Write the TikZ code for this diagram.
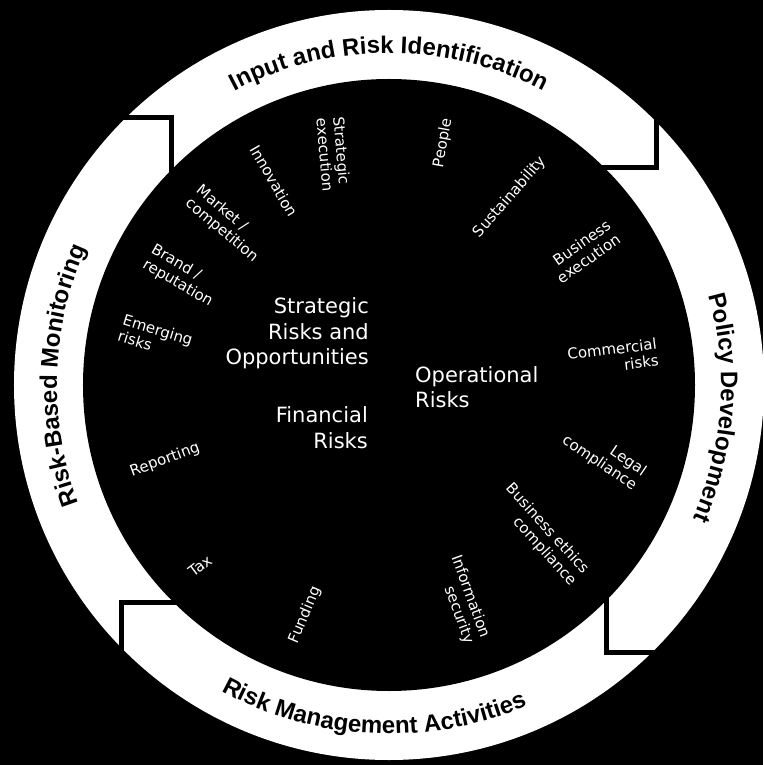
\documentclass[tikz,border=0pt]{standalone}
\usepackage{fontspec}
\setmainfont{DejaVu Sans}
\newfontfamily\ringfont{Liberation Sans}
\usetikzlibrary{decorations.text}
\newcommand\ringfmt{\ringfont\bfseries\fontsize{24}{24}\selectfont}
\begin{document}
\begin{tikzpicture}[x=1pt,y=1pt,
  small/.style={text=white, font=\fontsize{15}{17}\selectfont, inner sep=0pt},
  big/.style={text=white, font=\fontsize{21}{25.5}\selectfont, inner sep=0pt},
  gap/.style={line width=5pt, draw=black, line join=miter}]
\useasboundingbox (-389,-380) rectangle (374,385);
\fill[black] (-389,-380) rectangle (374,385);
% ring
\fill[white] (0,0) circle[radius=375];
\draw[gap] (-300,267) -- (-217,267) -- (-217,200);
\draw[gap] (267,300) -- (267,217) -- (200,217);
\draw[gap] (300,-267) -- (217,-267) -- (217,-200);
\draw[gap] (-267,-300) -- (-267,-217) -- (-200,-217);
\fill[black] (0,0) circle[radius=306];
% ring labels
\path[decorate, decoration={text along path, text align=center,
  text={|\ringfmt|Input and Risk Identification}}]
  (130:332) arc[start angle=130, end angle=50, radius=332];
\path[decorate, decoration={text along path, text align=center,
  text={|\ringfmt|Policy Development}}]
  (36:332) arc[start angle=36, end angle=-44, radius=332];
\path[decorate, decoration={text along path, text align=center,
  text={|\ringfmt|Risk Management Activities}}]
  (227.3:349) arc[start angle=227.3, end angle=307.3, radius=349];
\path[decorate, decoration={text along path, text align=center,
  text={|\ringfmt|Risk-Based Monitoring}}]
  (218.3:332) arc[start angle=218.3, end angle=138.3, radius=332];
% central labels
\node[big, align=right, anchor=north east] (strat) at (-20,87.5) {Strategic\\Risks and\\Opportunities};
\node[big, align=right, anchor=north east] (fin) at (-21,-21.5) {Financial\\Risks};
\node[big, align=left, anchor=north west] (oper) at (26,19) {Operational\\Risks};
% risk items
\node[small, align=left, rotate=-85] (stex) at (-55.5,231) {Strategic\\execution};
\node[small, rotate=-60] (innov) at (-115,204) {Innovation};
\node[small, align=left, rotate=-40] (market) at (-162,161) {Market /\\competition};
\node[small, align=left, rotate=-30] (brand) at (-207,109) {Brand /\\reputation};
\node[small, align=left, rotate=-17] (emerg) at (-233.5,47) {Emerging\\risks};
\node[small, rotate=80] (people) at (54,242) {People};
\node[small, rotate=49] (sustain) at (121,188) {Sustainability};
\node[small, align=right, rotate=35] (bizex) at (194.6,133.5) {Business\\execution};
\node[small, align=right, rotate=7] (comm) at (224,27.6) {Commercial\\risks};
\node[small, align=right, rotate=-34] (legal) at (215,-71) {Legal\\compliance};
\node[small, align=right, rotate=-48] (ethics) at (151.7,-149.7) {Business ethics\\compliance};
\node[small, align=right, rotate=-70] (infosec) at (73,-214.4) {Information\\security};
\node[small, rotate=67] (fund) at (-84,-230) {Funding};
\node[small, rotate=37] (tax) at (-189,-181) {Tax};
\node[small, rotate=20] (report) at (-224,-75) {Reporting};
\end{tikzpicture}
\end{document}
